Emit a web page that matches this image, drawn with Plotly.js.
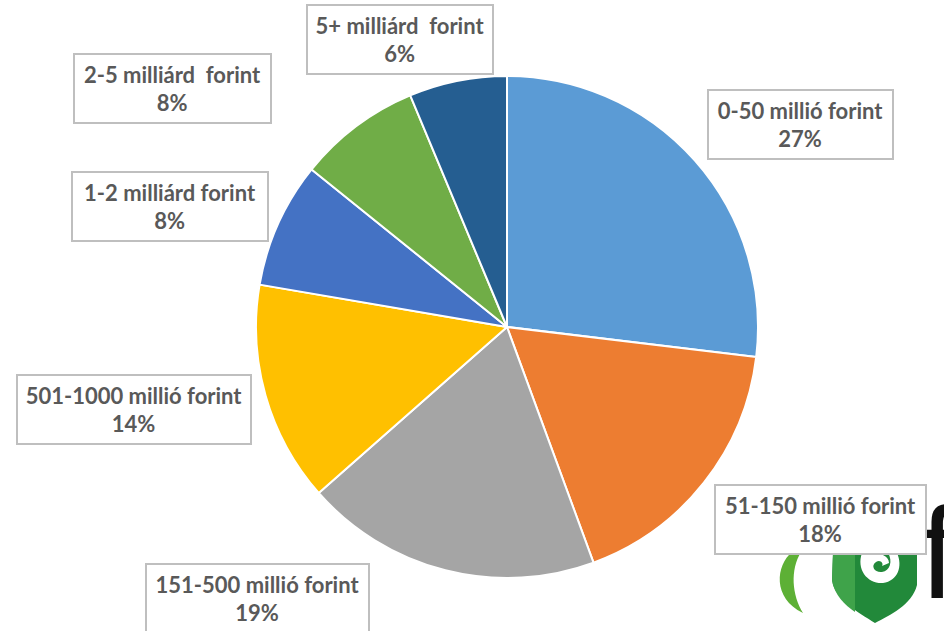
<!DOCTYPE html>
<html>
<head>
<meta charset="utf-8">
<script src="https://cdn.plot.ly/plotly-3.0.1.min.js"></script>
<style>html,body{margin:0;padding:0;background:#fff;}#chart{width:944px;height:631px;}</style>
</head>
<body>
<div id="chart"></div>
<script>
const categories = ["0-50 millió forint", "51-150 millió forint", "151-500 millió forint", "501-1000 millió forint", "1-2 milliárd forint", "2-5 milliárd  forint", "5+ milliárd  forint"];
const shares = [26.9, 17.5, 19.1, 14.2, 8.1, 7.9, 6.3];
const sliceColors = ["#5B9BD5", "#ED7D31", "#A5A5A5", "#FFC000", "#4472C4", "#70AD47", "#255E91"];

const W = 944, H = 631;
const px = x => x / W;
const py = y => 1 - y / H;

// label box placement (pixel centre, box size)
const boxes = [
  [800.5, 124.5, 183, 67],
  [820.5, 519.5, 209, 67],
  [257.5, 598.5, 221, 67],
  [134, 409.5, 232, 67],
  [170, 206, 194, 67],
  [172.5, 88, 195, 67],
  [400, 39, 184, 67]
];

const total = shares.reduce((a, b) => a + b, 0);
const labelAnns = categories.map((c, i) => ({
  xref: 'paper', yref: 'paper',
  x: px(boxes[i][0]), y: py(boxes[i][1]),
  xanchor: 'center', yanchor: 'middle',
  text: c.replace(/ /g, '&nbsp;') + '<br>' + Math.round(shares[i] / total * 100) + '%',
  showarrow: false,
  width: boxes[i][2], height: boxes[i][3],
  bgcolor: '#FFFFFF', bordercolor: '#BFBFBF', borderwidth: 2, borderpad: 0,
  font: {family: 'Lato, "Open Sans", sans-serif', size: 22, color: '#595959', weight: 'bold'},
  align: 'center', valign: 'middle'
}));

const fLetter = {
  xref: 'paper', yref: 'paper', x: px(918), y: py(553),
  xanchor: 'left', yanchor: 'middle', showarrow: false,
  text: 'f', font: {family: 'Liberation Sans, Arial, sans-serif', size: 130, color: '#111111'}
};

const shapes = [
  // crescent
  {type: 'path', xref: 'paper', yref: 'paper', layer: 'above', line: {width: 0}, fillcolor: '#5DB035',
   path: `M ${px(792)} ${py(552)} C ${px(776)} ${py(565)} ${px(772)} ${py(598)} ${px(803)} ${py(613)} C ${px(792)} ${py(595)} ${px(790)} ${py(570)} ${px(801)} ${py(552)} Z`},
  // shield
  {type: 'path', xref: 'paper', yref: 'paper', layer: 'above', line: {width: 0}, fillcolor: '#22893A',
   path: `M ${px(833)} ${py(553)} L ${px(917)} ${py(553)} L ${px(917)} ${py(585)} C ${px(912)} ${py(605)} ${px(890)} ${py(615)} ${px(875)} ${py(623)} C ${px(858)} ${py(612)} ${px(835)} ${py(600)} ${px(832)} ${py(580)} Z`},
  {type: 'path', xref: 'paper', yref: 'paper', layer: 'above', line: {width: 0}, fillcolor: '#3FA34A',
   path: `M ${px(833)} ${py(553)} L ${px(855)} ${py(553)} L ${px(855)} ${py(612)} C ${px(845)} ${py(605)} ${px(834)} ${py(595)} ${px(832)} ${py(580)} Z`},
  // swirl
  {type: 'path', xref: 'paper', yref: 'paper', layer: 'above', line: {width: 0}, fillcolor: '#FFFFFF',
   path: `M ${px(862)} ${py(553)} C ${px(856)} ${py(570)} ${px(868)} ${py(584)} ${px(883)} ${py(583)} C ${px(898)} ${py(581)} ${px(903)} ${py(566)} ${px(897)} ${py(553)} L ${px(888)} ${py(553)} C ${px(893)} ${py(561)} ${px(890)} ${py(571)} ${px(882)} ${py(572)} C ${px(875)} ${py(573)} ${px(870)} ${py(566)} ${px(876)} ${py(562)} C ${px(880)} ${py(559)} ${px(884)} ${py(563)} ${px(882)} ${py(566)} L ${px(889)} ${py(563)} C ${px(889)} ${py(556)} ${px(880)} ${py(553)} ${px(875)} ${py(553)} Z`}
];

const trace = {
  type: 'pie',
  labels: categories,
  values: shares,
  sort: false,
  direction: 'clockwise',
  rotation: 0,
  textinfo: 'none',
  hoverinfo: 'label+percent',
  marker: {colors: sliceColors, line: {color: '#FFFFFF', width: 2}},
  domain: {x: [px(256), px(758)], y: [py(578), py(76)]},
  showlegend: false
};

const layout = {
  width: W, height: H,
  margin: {l: 0, r: 0, t: 0, b: 0},
  paper_bgcolor: '#FFFFFF',
  showlegend: false,
  shapes: shapes,
  annotations: [fLetter].concat(labelAnns)
};

Plotly.newPlot('chart', [trace], layout, {displayModeBar: false, staticPlot: true});
</script>
</body>
</html>
